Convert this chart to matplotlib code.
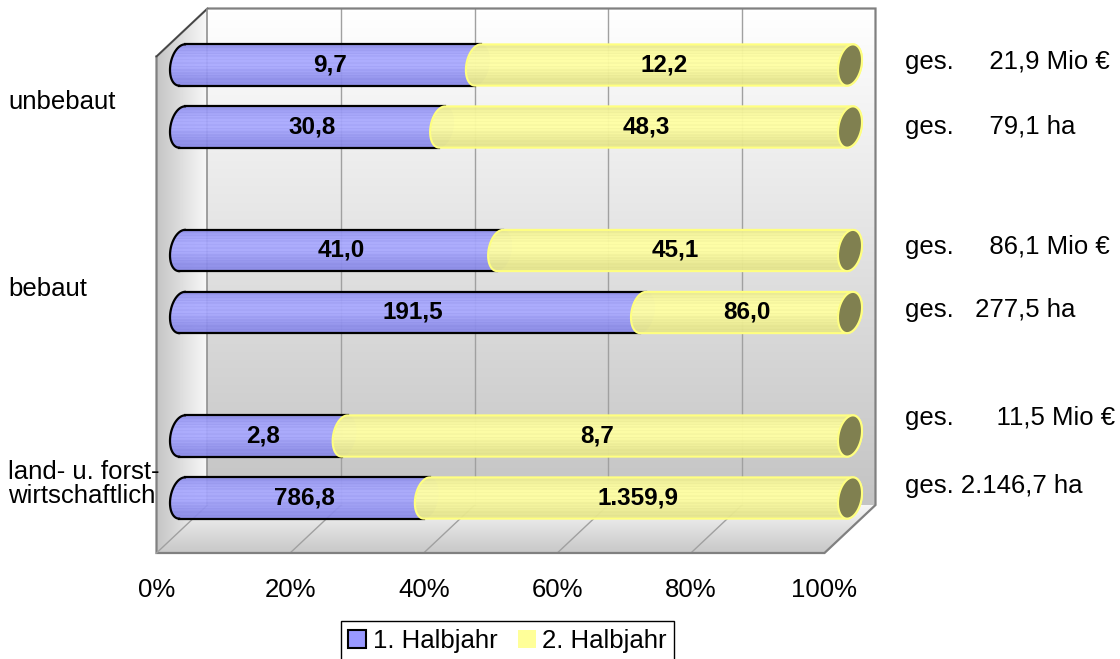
import numpy as np
import matplotlib
matplotlib.use("Agg")
import matplotlib.pyplot as plt
from matplotlib.patches import Polygon, Patch

plt.rcParams['font.family'] = ['Liberation Sans', 'DejaVu Sans']

# ---- data -------------------------------------------------------------
categories = ["unbebaut", "bebaut", "land- u. forst-\nwirtschaftlich"]
series_names = ["1. Halbjahr", "2. Halbjahr"]
units = ["Mio €", "ha"]
# one row per category: [Mio € value, ha value]
first_half = [[9.7, 30.8], [41.0, 191.5], [2.8, 786.8]]
second_half = [[12.2, 48.3], [45.1, 86.0], [8.7, 1359.9]]
pct_ticks = [0, 20, 40, 60, 80, 100]

# ---- layout (pixels of a 1120x659 canvas) ----------------------------
W, H = 1120, 659
X0_PX, PX_PER_PCT = 182.0, 6.68          # 0 % on the middle depth plane
Y0_PX, GROUP_PX = 96.0, 185.5            # first category centre, spacing
PAIR_PX = 31.0                           # offset of the two bars in a group
BAR_R_PX = 20.0                          # cylinder radius
CAP_U_PX = (12.0, -5.0)                  # depth axis of the end caps
DEPTH_PX = (25.5, -24.0)                 # half depth of the box
TOP_PX, FLOOR_PX = 32.5, 529.0           # box top / floor on middle plane
cat_label_dy_px = [6, 7, 17]
total_label_py = [62, 127, 247, 310, 418, 486]
total_pad = [5, 5, 5, 3, 6, 1]

SX = 1.0 / PX_PER_PCT
SY = 1.0 / GROUP_PX

fig = plt.figure(figsize=(W / 100, H / 100), dpi=100)
ax = fig.add_axes([0, 0, 1, 1])
XLIM = (-X0_PX * SX, (W - X0_PX) * SX)
YLIM = ((H - Y0_PX) * SY, -Y0_PX * SY)
ax.axis('off')


def px_x(px):
    return (px - X0_PX) * SX


def px_y(py):
    return (py - Y0_PX) * SY


def depth(x, y, d):
    """Shift a point on the middle plane by d half-depths (+1 = back)."""
    return x + d * DEPTH_PX[0] * SX, y + d * DEPTH_PX[1] * SY


def fill_gradient(poly_xy, colors, vertical=True, zorder=1, alpha=1.0,
                  interp='bilinear'):
    poly_xy = np.asarray(poly_xy)
    patch = Polygon(poly_xy, closed=True, transform=ax.transData,
                    facecolor='none', edgecolor='none')
    cols = np.asarray(colors, dtype=float)
    arr = cols[:, None, :] if vertical else cols[None, :, :]
    x0, x1 = poly_xy[:, 0].min(), poly_xy[:, 0].max()
    y0, y1 = poly_xy[:, 1].min(), poly_xy[:, 1].max()
    im = ax.imshow(arr, extent=(x0, x1, y1, y0), origin='upper',
                   aspect='auto', zorder=zorder, alpha=alpha,
                   interpolation=interp)
    im.set_clip_path(patch)
    return im


def ramp(c0, c1, n):
    c0 = np.array(matplotlib.colors.to_rgb(c0))
    c1 = np.array(matplotlib.colors.to_rgb(c1))
    t = np.linspace(0, 1, n)[:, None]
    return c0 * (1 - t) + c1 * t


# ---- box: left wall, back wall, floor --------------------------------
yt, yf = px_y(TOP_PX), px_y(FLOOR_PX)
back = [depth(0, yt, 1), depth(100, yt, 1), depth(100, yf, 1), depth(0, yf, 1)]
left = [depth(0, yt, -1), depth(0, yt, 1), depth(0, yf, 1), depth(0, yf, -1)]
floor = [depth(0, yf, -1), depth(0, yf, 1), depth(100, yf, 1), depth(100, yf, -1)]

fill_gradient(back, ramp('#ffffff', '#c4c4c4', 64), vertical=True, zorder=1)
fill_gradient(left, ramp('#c4c4c4', '#f8f8f8', 64), vertical=False, zorder=1)
fill_gradient(floor, ramp('#f6f6f6', '#c8c8c8', 64), vertical=True, zorder=1)

grid_c = '#a0a0a0'
for v in pct_ticks:
    bx, byt = depth(v, yt, 1)
    _, byf = depth(v, yf, 1)
    fx, fy = depth(v, yf, -1)
    if 0 < v < 100:
        ax.plot([bx, bx], [byt, byf], color=grid_c, lw=1.0, zorder=2)
        ax.plot([fx, bx], [fy, byf], color=grid_c, lw=1.0, zorder=2)
    ax.text(fx, fy + 37 * SY, f"{v}%", ha='center', va='center',
            fontsize=18.5, color='black', zorder=5)

edge_c = '#808080'
outline = [depth(0, yt, -1), depth(0, yt, 1), depth(100, yt, 1),
           depth(100, yf, 1), depth(100, yf, -1), depth(0, yf, -1),
           depth(0, yt, -1)]
ox, oy = zip(*outline)
ax.plot(ox, oy, color=edge_c, lw=1.6, zorder=2, solid_joinstyle='miter')
p, q = depth(0, yt, -1), depth(0, yt, 1)
ax.plot([p[0], q[0]], [p[1], q[1]], color='#404040', lw=1.0, zorder=2)
bx0, byt0 = depth(0, yt, 1)
_, byf0 = depth(0, yf, 1)
ax.plot([bx0, bx0], [byt0, byf0], color='#909090', lw=1.2, zorder=2)
p, q = depth(0, yf, -1), depth(0, yf, 1)
ax.plot([p[0], q[0]], [p[1], q[1]], color=grid_c, lw=1.0, zorder=2)

# ---- cylinders ---------------------------------------------------------
U = np.array([CAP_U_PX[0] * SX, CAP_U_PX[1] * SY])
V = np.array([0.0, BAR_R_PX * SY])
# parameters where the cap ellipse reaches its lowest / highest screen point
T_BOT = np.arctan2(BAR_R_PX, CAP_U_PX[1])
T_TOP = T_BOT - np.pi


def cap(cx, cy, t):
    t = np.asarray(t)
    return np.column_stack([cx + np.cos(t) * U[0] + np.sin(t) * V[0],
                            cy + np.cos(t) * U[1] + np.sin(t) * V[1]])


def left_arc(x, yc, n=60):
    return cap(x, yc, np.linspace(T_TOP + 2 * np.pi, T_BOT, n))


def right_arc(x, yc, n=60):
    return cap(x, yc, np.linspace(T_BOT, T_TOP, n))


def body(xa, xb, yc):
    return np.vstack([left_arc(xa, yc), right_arc(xb, yc)])


def cyl_colors(dark, light, n=44):
    t = np.linspace(0, 1, n)
    w = np.exp(-((t - 0.40) / 0.40) ** 2)
    stripes = 0.10 * np.sign(np.sin(2 * np.pi * np.arange(n) / 3.4))
    w = np.clip(w * 0.85 + 0.12 + stripes * (0.4 + 0.6 * w), 0, 1)[:, None]
    d = np.array(matplotlib.colors.to_rgb(dark))
    l = np.array(matplotlib.colors.to_rgb(light))
    return d * (1 - w) + l * w


blue_cols = cyl_colors('#7e7ee0', '#a8a8ff')
yellow_cols = cyl_colors('#dcdc86', '#ffffa4')
BLUE_EDGE, YELLOW_EDGE, CAP_FACE = '#000000', '#ffff80', '#808050'


def fmt_de(v):
    s = f"{v:,.1f}"
    return s.replace(',', '#').replace('.', ',').replace('#', '.')


row = 0
for gi, cat in enumerate(categories):
    for k in range(2):
        a, b = first_half[gi][k], second_half[gi][k]
        tot = a + b
        pa = 100.0 * a / tot
        yc = gi + (2 * k - 1) * PAIR_PX * SY
        z = 10 + row * 3

        # first half: blue cylinder, its right end lies under the yellow one
        poly_b = body(0, pa, yc)
        fill_gradient(poly_b, blue_cols, zorder=z, alpha=0.93, interp='nearest')
        la = left_arc(0, yc)
        top_end = cap(pa, yc, [T_TOP])
        bot_end = cap(pa, yc, [T_BOT])
        ax.plot(la[:, 0], la[:, 1], color=BLUE_EDGE, lw=1.6, zorder=z)
        ax.plot([la[0, 0], top_end[0, 0]], [la[0, 1], top_end[0, 1]],
                color=BLUE_EDGE, lw=1.6, zorder=z)
        ax.plot([la[-1, 0], bot_end[0, 0]], [la[-1, 1], bot_end[0, 1]],
                color=BLUE_EDGE, lw=1.6, zorder=z)

        # second half: yellow cylinder with an open olive end
        poly_y = body(pa, 100, yc)
        fill_gradient(poly_y, yellow_cols, zorder=z + 1, alpha=0.96,
                      interp='nearest')
        ax.add_patch(Polygon(poly_y, closed=True, facecolor='none',
                             edgecolor=YELLOW_EDGE, lw=1.5, zorder=z + 1))
        end = cap(100, yc, np.linspace(0, 2 * np.pi, 80))
        ax.add_patch(Polygon(end, closed=True, facecolor=CAP_FACE,
                             edgecolor=YELLOW_EDGE, lw=1.5, zorder=z + 2))

        ax.text(pa / 2, yc, fmt_de(a), ha='center', va='center',
                fontsize=17.5, fontweight='bold', zorder=40)
        ax.text((pa + 100) / 2, yc, fmt_de(b), ha='center', va='center',
                fontsize=17.5, fontweight='bold', zorder=40)

        label = "ges." + " " * total_pad[row] + f"{fmt_de(tot)} {units[k]}"
        ax.text(px_x(905), px_y(total_label_py[row]), label, ha='left',
                va='center', fontsize=18.5, zorder=40)
        row += 1

    ax.text(px_x(8), gi + cat_label_dy_px[gi] * SY, cat, ha='left',
            va='center', fontsize=18.5, linespacing=1.05, zorder=40)

ax.set_xlim(*XLIM)
ax.set_ylim(*YLIM)

handles = [Patch(facecolor='#9999ff', edgecolor='black', lw=1.5),
           Patch(facecolor='#ffff99', edgecolor='none')]
leg = fig.legend(handles, series_names, loc='upper center', ncol=2,
                 bbox_to_anchor=(507.5 / W, 1 - 621 / H),
                 bbox_transform=fig.transFigure, fontsize=18.5,
                 frameon=True, fancybox=False, framealpha=1,
                 edgecolor='black', borderpad=0.3, handlelength=0.7,
                 handleheight=0.7, handletextpad=0.25, columnspacing=0.8,
                 borderaxespad=0)
leg.get_frame().set_linewidth(1.0)

fig.savefig('out.png', dpi=100)
